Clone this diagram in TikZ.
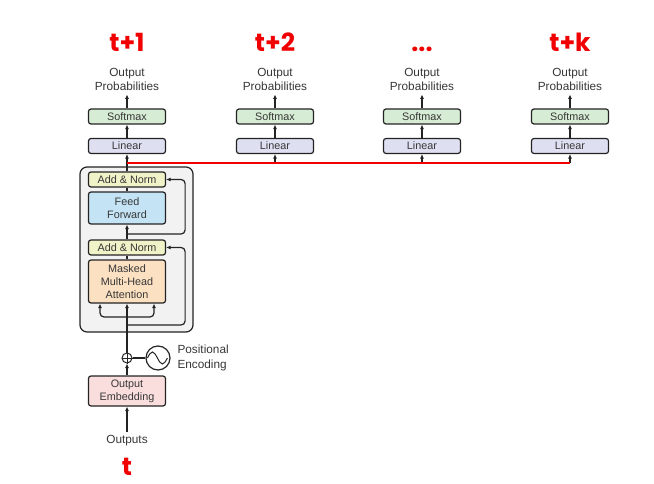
\documentclass[tikz,border=0pt]{standalone}
\usepackage{fontspec}
\setmainfont{Liberation Sans}
\newfontfamily\headfont{Poppins}
\usetikzlibrary{arrows.meta, positioning}
\definecolor{txtGray}{RGB}{55,55,55}
\definecolor{edgeGray}{RGB}{35,35,35}
\definecolor{softGreen}{RGB}{214,236,212}
\definecolor{linLilac}{RGB}{222,224,242}
\definecolor{normYellow}{RGB}{240,243,200}
\definecolor{ffBlue}{RGB}{196,228,245}
\definecolor{attnOrange}{RGB}{252,224,194}
\definecolor{embPink}{RGB}{250,222,222}
\definecolor{stackGray}{RGB}{242,242,242}
\definecolor{stepRed}{RGB}{240,0,0}
\newcommand{\stepdots}{.{}.{}.}
\tikzset{
  layer/.style={draw=edgeGray, line width=1.2pt, rounded corners=2.5pt,
                minimum width=77pt, minimum height=15pt, inner sep=1pt,
                align=center, text=txtGray,
                font=\fontsize{10.8}{13.2}\selectfont},
  outtext/.style={align=center, text=txtGray,
                  font=\fontsize{11.8}{14.5}\selectfont},
  steplabel/.style={text=stepRed, anchor=base,
                    font=\headfont\bfseries\fontsize{25}{27}\selectfont},
  flow/.style={-{Latex[length=4.5pt, width=4pt]}, line width=1.2pt,
               draw=edgeGray},
  wire/.style={line width=1.2pt, draw=edgeGray},
  redline/.style={line width=2.4pt, draw=stepRed},
}
\begin{document}
\begin{tikzpicture}[x=1pt, y=-1pt]
  \useasboundingbox (0,0) rectangle (654,484);
  % ================= output heads =================
  \foreach \x/\lab/\n in {127/t+1/1, 275/t+2/2, 422/\stepdots/3, 570/t+k/4}{
    \node[steplabel] (step\n) at (\x,52) {\lab};
    \node[outtext] (prob\n) at (\x,79.5) {Output\\Probabilities};
    \node[layer, fill=softGreen] (soft\n) at (\x,116.5) {Softmax};
    \node[layer, fill=linLilac] (lin\n) at (\x,146) {Linear};
    \coordinate (tap\n) at (\x,163);
    \draw[flow] (lin\n) -- (soft\n);
    \draw[flow] (soft\n.north) -- (prob\n.south);
  }
  \foreach \n in {2,3,4}{
    \draw[flow] (tap\n) -- (lin\n);
  }
  % ================= decoder stack =================
  \node[draw=edgeGray, line width=1.2pt, fill=stackGray, rounded corners=7pt,
        minimum width=113pt, minimum height=165pt] (decoder) at (136.5,249.5) {};
  \node[layer, fill=normYellow] (normA) at (127,179.5) {Add \& Norm};
  \node[layer, fill=ffBlue, minimum height=32pt] (ff) at (127,208)
    {Feed\\Forward};
  \node[layer, fill=normYellow] (normB) at (127,247.5) {Add \& Norm};
  \node[layer, fill=attnOrange, minimum height=43pt] (mha) at (127,281.5)
    {Masked\\Multi-Head\\Attention};
  % input side
  \node[layer, fill=embPink, minimum height=30pt] (embed) at (127,391)
    {Output\\Embedding};
  \node[outtext] (outs) at (127,441) {Outputs};
  \node[steplabel] (stept) at (127,475) {t};
  \node[draw=edgeGray, line width=1pt, circle, minimum size=10pt,
        inner sep=0pt] (plus) at (127,358) {};
  \draw[line width=0.9pt, edgeGray] (plus.north) -- (plus.south)
    (plus.west) -- (plus.east);
  \node[draw=edgeGray, line width=1.2pt, circle, minimum size=24pt,
        inner sep=0pt] (pe) at (158,358) {};
  \draw[line width=1pt, edgeGray] ([xshift=2pt]pe.west)
    sin ++(5,-6) cos ++(5,6) sin ++(5,6) cos ++(5,-6);
  \node[outtext, align=left, anchor=west] (petext) at (174,358)
    {Positional\\Encoding};
  % connectors
  \coordinate (attnsplit) at (127,317);
  \coordinate (resB) at (127,325);
  \coordinate (resA) at (127,234);
  \draw[flow] (outs.north) -- (embed.south);
  \draw[flow] (embed.north) -- (plus.south);
  \draw[wire] (plus.east) -- (pe.west);
  \draw[flow] (plus.north) -- (mha.south);
  \draw[flow, rounded corners=4pt] (attnsplit) -| ([xshift=-27pt]mha.south);
  \draw[flow, rounded corners=4pt] (attnsplit) -| ([xshift=27pt]mha.south);
  \draw[wire] (mha) -- (normB);
  \draw[flow, rounded corners=4pt] (resB) -| ([xshift=19pt]normB.east)
    -- (normB.east);
  \draw[flow] (normB) -- (ff);
  \draw[flow, rounded corners=4pt] (resA) -| ([xshift=19pt]normA.east)
    -- (normA.east);
  \draw[wire] (ff) -- (normA);
  \draw[flow] (normA) -- (lin1);
  % shared red link to every head
  \draw[redline] (tap1) -- (tap4);
\end{tikzpicture}
\end{document}
